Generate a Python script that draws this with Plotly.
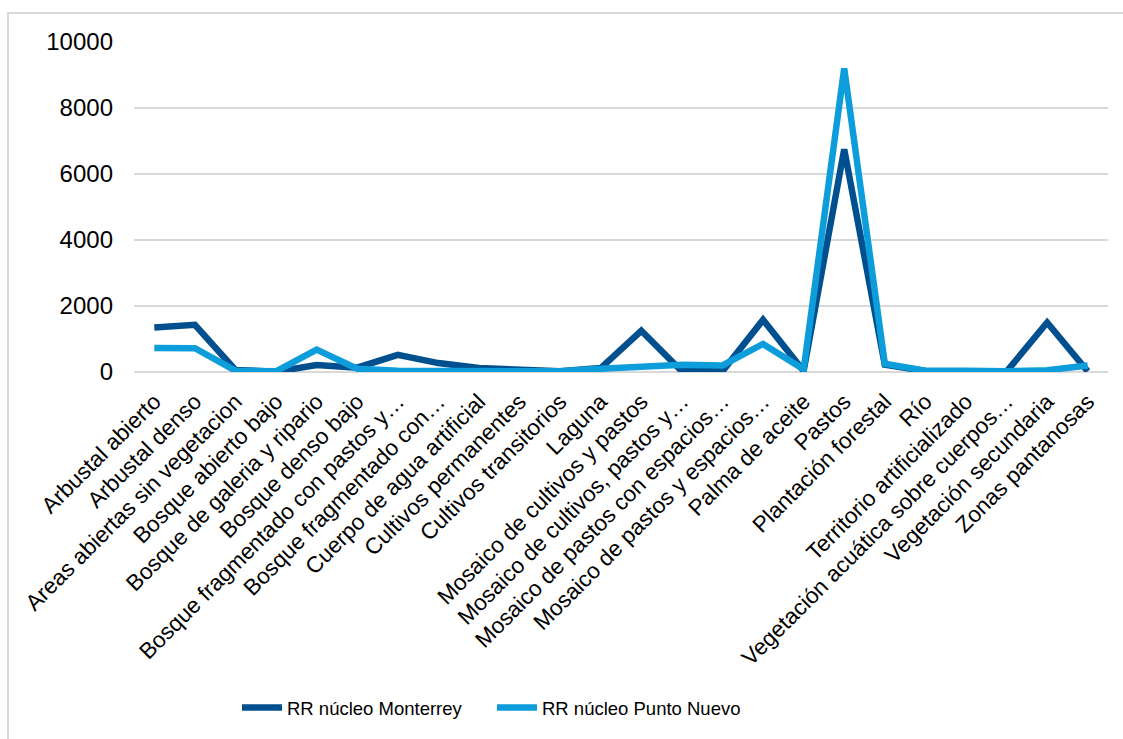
import plotly.graph_objects as go

# Land-cover categories (x axis)
categorias = [
    "Arbustal abierto",
    "Arbustal denso",
    "Areas abiertas sin vegetacion",
    "Bosque abierto bajo",
    "Bosque de galeria y ripario",
    "Bosque denso bajo",
    "Bosque fragmentado con pastos y…",
    "Bosque fragmentado con…",
    "Cuerpo de agua artificial",
    "Cultivos permanentes",
    "Cultivos transitorios",
    "Laguna",
    "Mosaico de cultivos y pastos",
    "Mosaico de cultivos, pastos y…",
    "Mosaico de pastos con espacios…",
    "Mosaico de pastos y espacios…",
    "Palma de aceite",
    "Pastos",
    "Plantación forestal",
    "Río",
    "Territorio artificializado",
    "Vegetación acuática sobre cuerpos…",
    "Vegetación secundaria",
    "Zonas pantanosas",
]

# Series values
monterrey = [1350, 1430, 60, 10, 210, 130, 520, 270, 120, 50, 20, 120,
             1250, 20, 20, 1580, 30, 6750, 220, 30, 30, 10, 1500, 20]
punto_nuevo = [730, 720, 40, 20, 680, 100, 40, 40, 30, 20, 20, 100,
               140, 220, 200, 850, 80, 9200, 250, 40, 40, 20, 50, 200]

y_ticks = [0, 2000, 4000, 6000, 8000, 10000]

DARK = "#00508F"
LIGHT = "#0E9DDB"
FONT = "Liberation Sans, Arial, sans-serif"

fig = go.Figure()
fig.add_trace(go.Scatter(
    x=categorias, y=monterrey, mode="lines", name="RR núcleo Monterrey",
    line=dict(color=DARK, width=6.5),
))
fig.add_trace(go.Scatter(
    x=categorias, y=punto_nuevo, mode="lines", name="RR núcleo Punto Nuevo",
    line=dict(color=LIGHT, width=6.5),
))

W, H = 1123, 739
L, R, T, B = 134, 15, 42, 367
pw = W - L - R
ph = H - T - B

# Light grey frame around the whole chart
fig.add_shape(
    type="rect", xref="paper", yref="paper",
    x0=(8 - L) / pw, x1=(W + 20 - L) / pw,
    y0=-(H + 20 - T - ph) / ph, y1=(H - B - 13) / ph,
    line=dict(color="#D9D9D9", width=2), fillcolor="rgba(0,0,0,0)",
    layer="below",
)

fig.update_layout(
    width=W, height=H,
    margin=dict(l=L, r=R, t=T, b=B),
    paper_bgcolor="white", plot_bgcolor="white",
    font=dict(family=FONT, color="#000000", size=20),
    showlegend=True,
    legend=dict(
        orientation="h", x=(492 - L) / pw, xanchor="center",
        y=(H - B - 708) / ph, yanchor="middle",
        font=dict(size=18.5), itemwidth=40,
        entrywidth=200, entrywidthmode="pixels",
        tracegroupgap=0,
    ),
    xaxis=dict(
        type="category", tickangle=-45, showgrid=False, showline=False,
        zeroline=False, ticks="", ticklabelstandoff=11,
        tickfont=dict(size=22.5),
        range=[-0.5, len(categorias) - 0.5],
    ),
    yaxis=dict(
        range=[0, 10000], tickvals=y_ticks, ticktext=[str(v) for v in y_ticks],
        showgrid=True, gridcolor="#D9D9D9", gridwidth=1.5,
        zeroline=True, zerolinecolor="#D9D9D9", zerolinewidth=1.5,
        showline=False, ticks="", ticklabelstandoff=20,
        tickfont=dict(size=24),
    ),
)

fig.write_html("out.html")
